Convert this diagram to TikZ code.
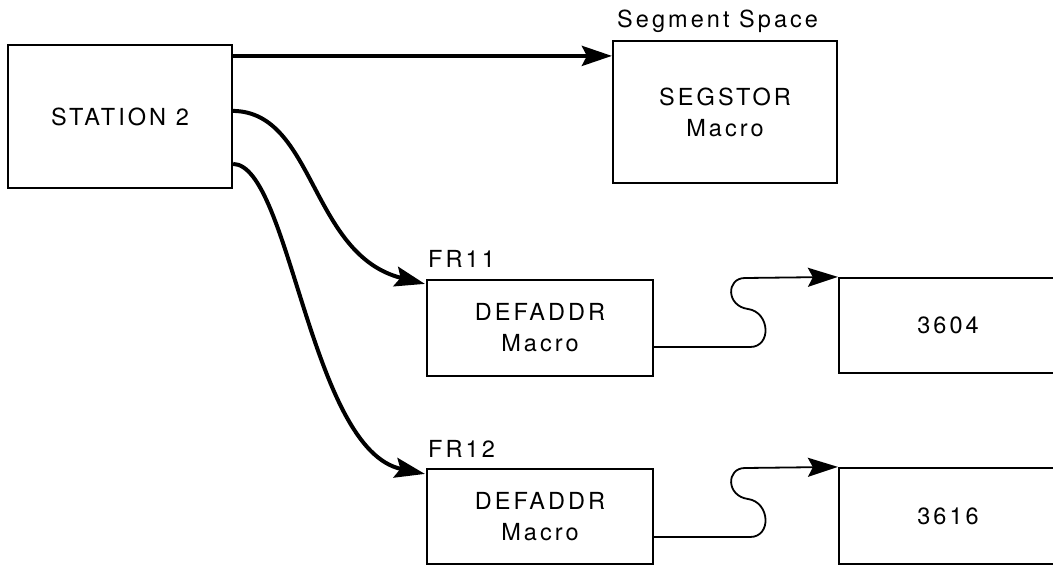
\documentclass[tikz,border=0pt]{standalone}
\usepackage{fontspec}
\setmainfont{TeX Gyre Heros}[LetterSpace=13]
\usetikzlibrary{arrows.meta,calc}
\begin{document}
\begin{tikzpicture}[x=1pt,y=-1pt,
  box/.style={draw, line width=2.2pt, inner sep=0pt, align=center, font=\fontsize{23.5}{31}\selectfont},
  lbl/.style={inner sep=0pt, anchor=base west, font=\fontsize{23.5}{26}\selectfont},
  bigarrow/.style={line width=4pt, -{Stealth[length=30pt,width=20pt,inset=5pt]}},
  sconn/.style={line width=1.8pt, -{Stealth[length=30pt,width=19pt,inset=5pt]}}
]
\useasboundingbox (0,0) rectangle (1053,566);
\clip (0,0) rectangle (1053,566);

\node[box, minimum width=224pt, minimum height=143pt] (st) at (120,116.5) {STATION 2};
\node[box, minimum width=224pt, minimum height=142pt] (seg) at (725,112) {SEGSTOR\\Macro};
\node[box, minimum width=226pt, minimum height=96pt] (d1) at (540,328) {DEFADDR\\Macro};
\node[box, minimum width=218pt, minimum height=95pt] (r1) at (948,325.5) {3604};
\node[box, minimum width=226pt, minimum height=95pt] (d2) at (540,516.5) {DEFADDR\\Macro};
\node[box, minimum width=218pt, minimum height=96pt] (r2) at (948,516) {3616};

\node[lbl] (segl) at (617,27) {Segment Space};
\node[lbl] (fr11) at (428,267) {FR11};
\node[lbl] (fr12) at (428,457) {FR12};

\draw[bigarrow] ($(st.north east)+(0,12)$) -- ($(seg.north west)+(0,16)$);
\draw[bigarrow] ($(st.north east)+(0,67)$) .. controls (315,112) and (310,255) .. ($(d1.north west)+(-1,5)$);
\draw[bigarrow] ($(st.north east)+(0,120)$) .. controls (290,165) and (310,450) .. ($(d2.north west)+(-1,6)$);

\draw[sconn] ($(d1.east)+(0,19)$) -- (750,347) .. controls (772,347) and (770,312) .. (748,309) .. controls (726,306) and (726,278) .. (745,278) -- (r1.north west);
\draw[sconn] ($(d2.east)+(0,20.5)$) -- (750,537) .. controls (772,537) and (770,502) .. (748,499) .. controls (726,496) and (726,468) .. (745,468) -- (r2.north west);
\end{tikzpicture}
\end{document}
